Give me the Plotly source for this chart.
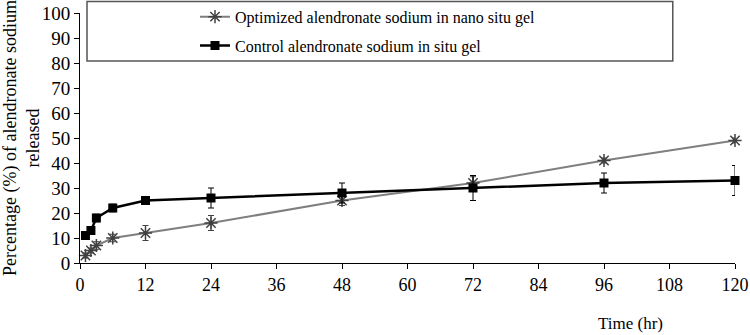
import plotly.graph_objects as go

time_hr = [1, 2, 3, 6, 12, 24, 48, 72, 96, 120]
optimized = [3, 5, 7, 10, 12, 16, 25, 32, 41, 49]
optimized_err = [1, 1, 1.5, 1.5, 3, 3, 2, 2.5, 1, 1]
control = [11, 13, 18, 22, 25, 26, 28, 30, 32, 33]
control_err = [0.8, 0.8, 1.5, 1.5, 1.5, 4, 4, 5, 4, 6]
x_ticks = [0, 12, 24, 36, 48, 60, 72, 84, 96, 108, 120]
y_ticks = [0, 10, 20, 30, 40, 50, 60, 70, 80, 90, 100]

FONT = "Liberation Serif, Times New Roman, serif"

fig = go.Figure()
fig.add_trace(go.Scatter(
    x=time_hr, y=optimized, mode="lines+markers",
    name="Optimized alendronate sodium in nano situ gel",
    legendgroup="a", cliponaxis=False,
    line=dict(color="#7f7f7f", width=2),
    marker=dict(symbol="asterisk-open", size=11, color="#404040",
                line=dict(color="#404040", width=1.5)),
    error_y=dict(type="data", array=optimized_err, visible=True,
                 color="#404040", thickness=1, width=3),
))
fig.add_trace(go.Scatter(
    x=time_hr, y=control, mode="lines+markers",
    name="Control alendronate sodium in situ gel",
    legendgroup="b", cliponaxis=False,
    line=dict(color="#000000", width=2.5),
    marker=dict(symbol="square", size=9, color="#000000"),
    error_y=dict(type="data", array=control_err, visible=True,
                 color="#000000", thickness=1, width=3),
))

fig.update_layout(
    width=750, height=335,
    margin=dict(l=80, r=15, t=13, b=72, autoexpand=False),
    plot_bgcolor="white", paper_bgcolor="white",
    font=dict(family=FONT, size=16, color="#000000"),
    showlegend=True,
    legend=dict(x=(195 - 80) / 655, y=1.053, xanchor="left", yanchor="top",
                bgcolor="rgba(0,0,0,0)", borderwidth=0, traceorder="grouped",
                font=dict(family=FONT, size=16), tracegroupgap=5),
    xaxis=dict(range=[0, 120], tickvals=x_ticks, ticks="outside", ticklen=5,
               tickcolor="#000", showline=True, linecolor="#000", linewidth=1,
               showgrid=False, zeroline=False, automargin=False,
               tickfont=dict(family=FONT, size=18)),
    yaxis=dict(range=[0, 100], tickvals=y_ticks, ticks="outside", ticklen=5,
               tickcolor="#000", showline=True, linecolor="#000", linewidth=1,
               showgrid=False, zeroline=False, automargin=False,
               tickfont=dict(family=FONT, size=19)),
)

fig.add_shape(type="rect", xref="paper", yref="paper",
              x0=0.0107, x1=0.905, y0=0.808, y1=1.046,
              line=dict(color="#555555", width=1.5), fillcolor="rgba(0,0,0,0)",
              layer="above")

fig.add_annotation(text="Percentage (%) of alendronate sodium<br>released",
                   xref="paper", yref="paper", x=-(80 - 21) / 655, y=0.5,
                   xanchor="center", yanchor="middle", textangle=-90,
                   showarrow=False, font=dict(family=FONT, size=18))

fig.add_annotation(text="Time (hr)", xref="paper", yref="paper",
                   x=(630 - 80) / 655, y=-(323 - 263) / 250,
                   xanchor="center", yanchor="middle",
                   showarrow=False, font=dict(family=FONT, size=17))

fig.write_html("out.html", config={"displayModeBar": False},
               post_script="document.body.style.margin='0';document.body.style.overflow='hidden';")
